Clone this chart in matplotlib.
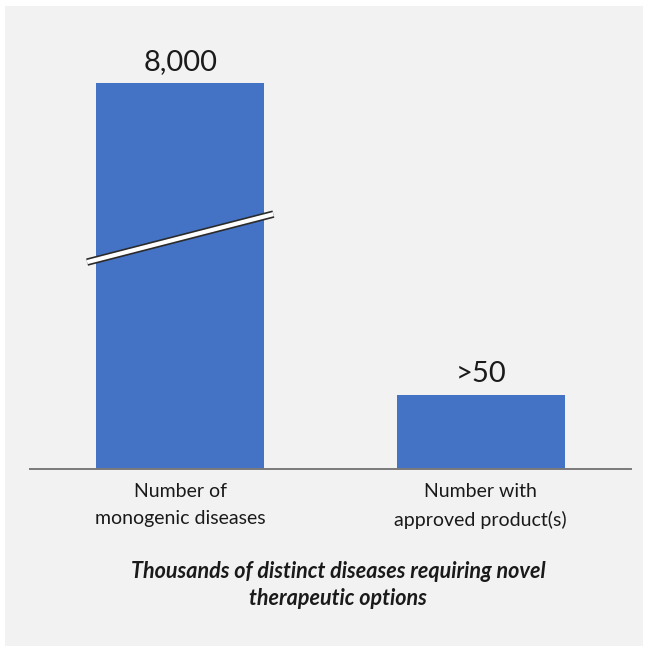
import numpy as np
import matplotlib.pyplot as plt
from matplotlib.patches import Rectangle
from matplotlib import patheffects as pe

categories = ["Number of\nmonogenic diseases", "Number with\napproved product(s)"]
values = [8000, 50]
value_labels = ["8,000", ">50"]
caption = "Thousands of distinct diseases requiring novel\ntherapeutic options"

plt.rcParams['font.family'] = ['Lato', 'DejaVu Sans']

# broken y scale: linear up to the break, strongly compressed above it
brk = 156.0
lo_rate = 1.48
hi_rate = 0.01976


def fwd(v):
    v = np.asarray(v, dtype=float)
    return np.where(v <= brk, v * lo_rate, brk * lo_rate + (v - brk) * hi_rate)


def inv(p):
    p = np.asarray(p, dtype=float)
    return np.where(p <= brk * lo_rate, p / lo_rate, brk + (p - brk * lo_rate) / hi_rate)


W, H = 645, 649
fig = plt.figure(figsize=(W / 100, H / 100), dpi=100)
fig.patch.set_facecolor('white')
fig.patches.append(Rectangle((5 / W, 1 - 646 / H), 638 / W, 640 / H,
                             transform=fig.transFigure, facecolor='#f2f2f2',
                             edgecolor='none', zorder=-5))

ax_l, ax_r, ax_top, ax_bot = 30, 631, 40, 469
ax = fig.add_axes([ax_l / W, 1 - ax_bot / H, (ax_r - ax_l) / W, (ax_bot - ax_top) / H])
ax.set_facecolor('none')
ax.set_yscale('function', functions=(fwd, inv))
top_px = ax_bot - ax_top
ax.set_ylim(0, float(inv(top_px)))
ax.set_xlim(-0.5, 1.5)

x = np.arange(len(values))
ax.bar(x, values, width=0.56, color='#4472C4', zorder=2)

for xi, v, lab in zip(x, values, value_labels):
    ax.annotate(lab, (xi, v), xytext=(0, 6), textcoords='offset points',
                ha='center', va='bottom', fontsize=21, color='#1a1a1a')

# break marker across the tall bar
mid = float(fwd(brk)) / top_px
half_rise = 24 / top_px
bx = [x[0] - 0.31, x[0] + 0.31]
by = [mid - half_rise, mid + half_rise]
ax.plot(bx, by, transform=ax.get_xaxis_transform(), color='white', lw=3.0,
        solid_capstyle='butt', zorder=3,
        path_effects=[pe.Stroke(linewidth=5.4, foreground='#2b2b2b', capstyle='butt'),
                      pe.Normal()])

for s in ['left', 'right', 'top']:
    ax.spines[s].set_visible(False)
ax.spines['bottom'].set_color('#7a7a7a')
ax.spines['bottom'].set_linewidth(1.4)
ax.set_yticks([])
ax.set_xticks(x)
ax.set_xticklabels(categories, fontsize=14, color='#1a1a1a', linespacing=1.72)
ax.tick_params(axis='x', length=0, pad=10)

fig.text(338 / W, 1 - 585 / H, caption, ha='center', va='center', fontsize=15.5,
         fontweight='bold', fontstyle='italic', color='#1a1a1a', linespacing=1.4)

fig.savefig('out.png', dpi=100, facecolor=fig.get_facecolor())
